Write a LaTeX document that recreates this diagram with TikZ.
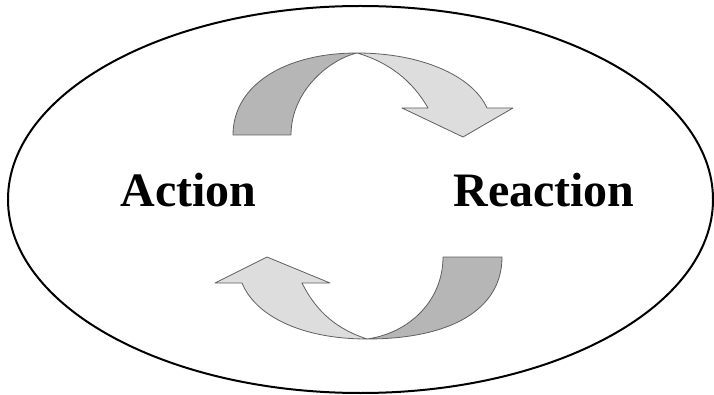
\documentclass[tikz,border=0pt]{standalone}
\usepackage{fontspec}
\usepackage{tikz}
\usepackage{xcolor}
\setmainfont{Liberation Serif}
\definecolor{darkband}{RGB}{182,182,182}
\definecolor{lightband}{RGB}{221,221,221}
\definecolor{bandline}{RGB}{95,95,95}

\begin{document}
\begin{tikzpicture}[x=1pt,y=-1pt,
  word/.style={anchor=base,font=\fontsize{48}{48}\selectfont\bfseries},
  band/.style={draw=bandline,line width=0.8pt,line join=round}]
  \useasboundingbox (0,0) rectangle (714,395);
  \draw[line width=2pt] (360.5,199.5) ellipse (352.5pt and 193.5pt);
  \node[word] (act) at (188.5,207) {Action};
  \node[word] (react) at (544,207) {Reaction};
  % upper arrow, dark half then light half with head
  \filldraw[band,fill=darkband] (233,135) .. controls (233,85) and (285,53) .. (357,53)
    .. controls (328,60) and (291,92) .. (291,135) -- cycle;
  \filldraw[band,fill=lightband] (357,53) .. controls (420,53) and (472,75) .. (487,108)
    -- (513,108) -- (463,137) -- (402,108) -- (428,108)
    .. controls (412,80) and (388,62) .. (357,53) -- cycle;
  % lower arrow
  \filldraw[band,fill=darkband] (502,257) .. controls (502,310) and (450,339) .. (367,339)
    .. controls (410,333) and (443,300) .. (443,257) -- cycle;
  \filldraw[band,fill=lightband] (367,339) .. controls (300,339) and (255,315) .. (242,283)
    -- (215,283) -- (267,257) -- (330,283) -- (302,283)
    .. controls (318,315) and (340,330) .. (367,339) -- cycle;
\end{tikzpicture}
\end{document}
